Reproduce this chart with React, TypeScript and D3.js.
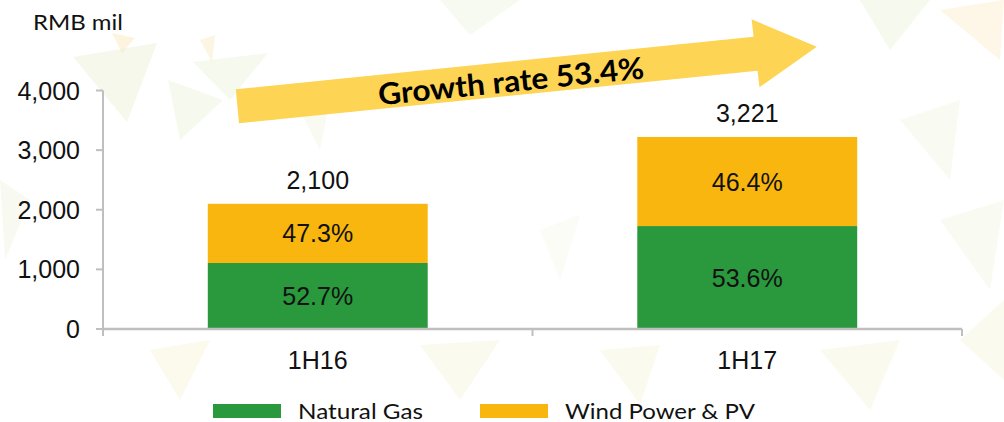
import React from 'react';
import * as d3 from 'd3';

const categories = ['1H16', '1H17'];
const totals = [2100, 3221];
const naturalGasShare = [52.7, 53.6];
const windPvShare = [47.3, 46.4];
const seriesNames = ['Natural Gas', 'Wind Power & PV'];
const yTicks = [0, 1000, 2000, 3000, 4000];
const unitLabel = 'RMB mil';
const growthLabel = 'Growth rate 53.4%';

const COLORS = ['#2A983C', '#F8B60E'];
const AXIS = '#BFBFBF';
const W = 1004;
const H = 422;

// faint decorative background triangles (not data)
const decor: [string, string, number][] = [
  ['73,57 157,43 127,122', '#E9F0D3', 0.45],
  ['112,33 135,38 122,53', '#FBE6B8', 0.45],
  ['193,62 268,53 230,100', '#E9F0D3', 0.4],
  ['200,40 215,35 212,62', '#FBE6B8', 0.4],
  ['168,80 223,100 180,140', '#E9F0D3', 0.4],
  ['300,110 330,100 320,150', '#EEF3DC', 0.35],
  ['440,0 520,0 470,35', '#E9F0D3', 0.35],
  ['860,0 930,0 890,50', '#E9F0D3', 0.4],
  ['940,10 1004,0 1000,60', '#FBE6B8', 0.35],
  ['900,120 960,100 950,180', '#EEF3DC', 0.35],
  ['940,220 1004,200 990,290', '#EEF3DC', 0.35],
  ['0,180 30,200 5,260', '#EEF3DC', 0.4],
  ['150,350 210,340 180,400', '#F6F3D8', 0.45],
  ['420,345 500,340 460,400', '#F6F3D8', 0.4],
  ['600,350 660,345 640,405', '#F6F3D8', 0.4],
  ['820,350 900,340 870,410', '#F6F3D8', 0.4],
  ['540,230 580,215 560,280', '#F1F5E2', 0.35],
  ['1004,300 960,340 1004,380', '#F6F3D8', 0.4],
];

export default function App() {
  const x = d3
    .scaleBand<string>()
    .domain(categories)
    .range([103, 962])
    .paddingInner(0.488)
    .paddingOuter(0.244);
  const y = d3.scaleLinear().domain([0, 4000]).range([329, 90.5]);

  const rows = categories.map((c, i) => ({
    cat: c,
    gas: (totals[i] * naturalGasShare[i]) / 100,
    wind: (totals[i] * windPvShare[i]) / 100,
    gasShare: naturalGasShare[i],
    windShare: windPvShare[i],
    total: totals[i],
  }));
  const stack = d3.stack<any>().keys(['gas', 'wind'])(rows);
  const shareKeys = ['gasShare', 'windShare'];

  const step = x.step();
  const x0 = x.range()[0];
  const boundaries = [x0, x0 + step, x0 + 2 * step];

  // arrow geometry (annotation)
  const ang = -5.8;
  const arrowPts = [
    [235.8, 89.3],
    [753.6, 36.7],
    [751.6, 19.3],
    [816.8, 46.7],
    [759.5, 87.3],
    [757.5, 70.7],
    [239, 123.3],
  ];

  const fmt = d3.format(',');

  return (
    <svg
      width={W}
      height={H}
      style={{ position: 'absolute', left: 0, top: 0, background: '#fff' }}
    >
      <rect x={0} y={0} width={W} height={H} fill="#fff" />
      {decor.map(([p, c, o], i) => (
        <polygon key={i} points={p} fill={c} opacity={o} />
      ))}

      <text
        x={33}
        y={30}
        fontFamily="Lato, 'Open Sans', sans-serif"
        fontSize={21}
        textLength={90}
        lengthAdjust="spacingAndGlyphs"
        fill="#111"
      >
        {unitLabel}
      </text>

      {/* y axis */}
      <line x1={103} x2={103} y1={y(4000)} y2={y(0)} stroke={AXIS} strokeWidth={2} />
      {yTicks.map((t) => (
        <g key={t}>
          <line x1={96} x2={103} y1={y(t)} y2={y(t)} stroke={AXIS} strokeWidth={2} />
          <text
            x={80}
            y={y(t)}
            dy="0.36em"
            textAnchor="end"
            fontFamily="'Liberation Sans', Arial, sans-serif"
            fontSize={25}
            fill="#111"
          >
            {fmt(t)}
          </text>
        </g>
      ))}

      {/* bars */}
      {stack.map((s, si) =>
        s.map((d, i) => (
          <g key={si + '-' + i}>
            <rect
              x={x(rows[i].cat)}
              width={x.bandwidth()}
              y={y(d[1])}
              height={y(d[0]) - y(d[1])}
              fill={COLORS[si]}
            />
            <text
              x={(x(rows[i].cat) as number) + x.bandwidth() / 2}
              y={(y(d[0]) + y(d[1])) / 2}
              dy="0.36em"
              textAnchor="middle"
              fontFamily="'Liberation Sans', Arial, sans-serif"
              fontSize={25}
              fill="#111"
            >
              {(rows[i] as any)[shareKeys[si]].toFixed(1)}%
            </text>
          </g>
        ))
      )}

      {/* totals */}
      {rows.map((r) => (
        <text
          key={r.cat}
          x={(x(r.cat) as number) + x.bandwidth() / 2}
          y={y(r.total) - 15}
          textAnchor="middle"
          fontFamily="'Liberation Sans', Arial, sans-serif"
          fontSize={25}
          fill="#111"
        >
          {fmt(r.total)}
        </text>
      ))}

      {/* x axis */}
      <line x1={102} x2={962} y1={y(0)} y2={y(0)} stroke={AXIS} strokeWidth={2.5} />
      {boundaries.map((b, i) => (
        <line key={i} x1={b} x2={b} y1={y(0)} y2={y(0) + 7} stroke={AXIS} strokeWidth={2} />
      ))}
      {categories.map((c) => (
        <text
          key={c}
          x={(x(c) as number) + x.bandwidth() / 2}
          y={369}
          textAnchor="middle"
          fontFamily="'Liberation Sans', Arial, sans-serif"
          fontSize={25}
          fill="#111"
        >
          {c}
        </text>
      ))}

      {/* growth arrow */}
      <polygon points={arrowPts.map((p) => p.join(',')).join(' ')} fill="#FDD453" />
      <text
        x={0}
        y={0}
        transform={`translate(511,81) rotate(${ang})`}
        dy="0.36em"
        textAnchor="middle"
        fontFamily="Lato, 'Open Sans', sans-serif"
        fontWeight={700}
        fontSize={30}
        textLength={267}
        lengthAdjust="spacingAndGlyphs"
        fill="#000"
      >
        {growthLabel}
      </text>

      {/* legend */}
      {seriesNames.map((n, i) => {
        const lx = i === 0 ? 213 : 480;
        return (
          <g key={n}>
            <rect x={lx} y={404} width={68} height={14} fill={COLORS[i]} />
            <text
              x={lx + 85}
              y={419}
              fontFamily="Lato, 'Open Sans', sans-serif"
              fontSize={21}
              textLength={i === 0 ? 125 : 190}
              lengthAdjust="spacingAndGlyphs"
              fill="#111"
            >
              {n}
            </text>
          </g>
        );
      })}
    </svg>
  );
}
